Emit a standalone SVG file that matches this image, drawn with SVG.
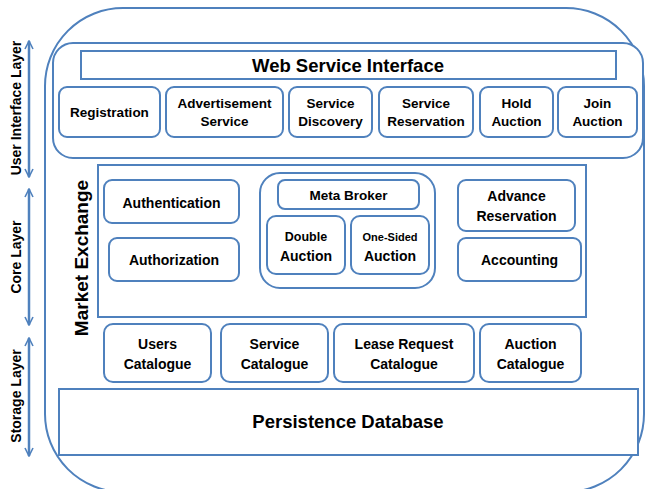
<svg xmlns="http://www.w3.org/2000/svg" width="645" height="489" viewBox="0 0 645 489">
<defs>
<style>
.b{fill:#fff;stroke:#4F81BD;stroke-width:2}
.c{fill:none;stroke:#4F81BD;stroke-width:2}
text{font-family:"Liberation Sans",Arial,sans-serif;font-weight:bold;fill:#000;text-anchor:middle}
.t{font-size:13.5px}
.m{font-size:14px}
.L{font-size:18.5px}
.s{font-size:14px}
.ar{fill:none;stroke:#4F81BD;stroke-width:2.5}
</style>
<marker id="ah" viewBox="0 0 10 10" refX="9" refY="5" markerWidth="4" markerHeight="4" orient="auto-start-reverse" markerUnits="strokeWidth">
<path d="M1,1 L9,5 L1,9" fill="none" stroke="#4F81BD" stroke-width="1.6"/>
</marker>
</defs>
<rect width="645" height="489" fill="#fff"/>
<g id="outer"><rect class="c" x="45" y="8" width="599" height="484" rx="78" ry="78"/></g>
<g id="ui-layer"><rect class="b" x="53" y="43" width="590" height="115" rx="20"/></g>
<g id="web-service-interface"><rect class="b" x="81" y="51" width="535" height="28"/><text class="L" x="348" y="72">Web Service Interface</text></g>
<g id="registration"><rect class="b" x="59" y="87" width="101" height="50" rx="8"/><text class="t" x="109.5" y="117">Registration</text></g>
<g id="advertisement-service"><rect class="b" x="166" y="87" width="117" height="50" rx="8"/><text class="t" x="224.5" y="108">Advertisement</text><text class="t" x="224.5" y="126">Service</text></g>
<g id="service-discovery"><rect class="b" x="289" y="87" width="83" height="50" rx="8"/><text class="t" x="330.5" y="108">Service</text><text class="t" x="330.5" y="126">Discovery</text></g>
<g id="service-reservation"><rect class="b" x="379" y="87" width="94" height="50" rx="8"/><text class="t" x="426" y="108">Service</text><text class="t" x="426" y="126">Reservation</text></g>
<g id="hold-auction"><rect class="b" x="480" y="87" width="73" height="50" rx="8"/><text class="t" x="516.5" y="108">Hold</text><text class="t" x="516.5" y="126">Auction</text></g>
<g id="join-auction"><rect class="b" x="558" y="87" width="79" height="50" rx="8"/><text class="t" x="597.5" y="108">Join</text><text class="t" x="597.5" y="126">Auction</text></g>
<g id="market-exchange"><rect class="b" x="98" y="165" width="488" height="152"/><text transform="translate(88,258) rotate(-90)" x="0" y="0" style="font-size:19px">Market Exchange</text></g>
<g id="authentication"><rect class="b" x="104" y="180" width="135" height="43" rx="8"/><text class="m" x="171.5" y="208">Authentication</text></g>
<g id="authorization"><rect class="b" x="109" y="238" width="130" height="43" rx="8"/><text class="m" x="174" y="265">Authorization</text></g>
<g id="meta-broker-group"><rect class="b" x="260" y="173" width="175" height="115" rx="20"/></g>
<g id="meta-broker"><rect class="b" x="278" y="180" width="141" height="29" rx="7"/><text class="t" x="348.5" y="200">Meta Broker</text></g>
<g id="double-auction"><rect class="b" x="267" y="216" width="78" height="58" rx="9"/><text x="306" y="241" style="font-size:12.5px">Double</text><text class="m" x="306" y="261">Auction</text></g>
<g id="one-sided-auction"><rect class="b" x="351" y="216" width="78" height="58" rx="9"/><text x="390" y="241" style="font-size:11px">One-Sided</text><text class="m" x="390" y="261">Auction</text></g>
<g id="advance-reservation"><rect class="b" x="458" y="180" width="117" height="51" rx="8"/><text class="m" x="516.5" y="201">Advance</text><text class="m" x="516.5" y="221">Reservation</text></g>
<g id="accounting"><rect class="b" x="458" y="238" width="123" height="43" rx="8"/><text class="m" x="519.5" y="265">Accounting</text></g>
<g id="users-catalogue"><rect class="b" x="104" y="324" width="107" height="58" rx="9"/><text class="m" x="157.5" y="349">Users</text><text class="m" x="157.5" y="369">Catalogue</text></g>
<g id="service-catalogue"><rect class="b" x="221" y="324" width="107" height="58" rx="9"/><text class="m" x="274.5" y="349">Service</text><text class="m" x="274.5" y="369">Catalogue</text></g>
<g id="lease-request-catalogue"><rect class="b" x="334" y="324" width="140" height="58" rx="9"/><text class="m" x="404" y="349">Lease Request</text><text class="m" x="404" y="369">Catalogue</text></g>
<g id="auction-catalogue"><rect class="b" x="480" y="324" width="101" height="58" rx="9"/><text class="m" x="530.5" y="349">Auction</text><text class="m" x="530.5" y="369">Catalogue</text></g>
<g id="persistence-database"><rect class="b" x="59" y="389" width="579" height="66"/><text class="L" x="348" y="428">Persistence Database</text></g>
<g id="connectors">
<line class="ar" x1="29" y1="41" x2="29" y2="177" marker-start="url(#ah)" marker-end="url(#ah)"/>
<line class="ar" x1="29" y1="189" x2="29" y2="325" marker-start="url(#ah)" marker-end="url(#ah)"/>
<line class="ar" x1="29" y1="338" x2="29" y2="456" marker-start="url(#ah)" marker-end="url(#ah)"/>
</g>
<g id="layer-labels">
<text class="s" transform="translate(21,108) rotate(-90)">User Interface Layer</text>
<text class="s" transform="translate(21,257) rotate(-90)">Core Layer</text>
<text class="s" transform="translate(21,396) rotate(-90)">Storage Layer</text>
</g>
</svg>
